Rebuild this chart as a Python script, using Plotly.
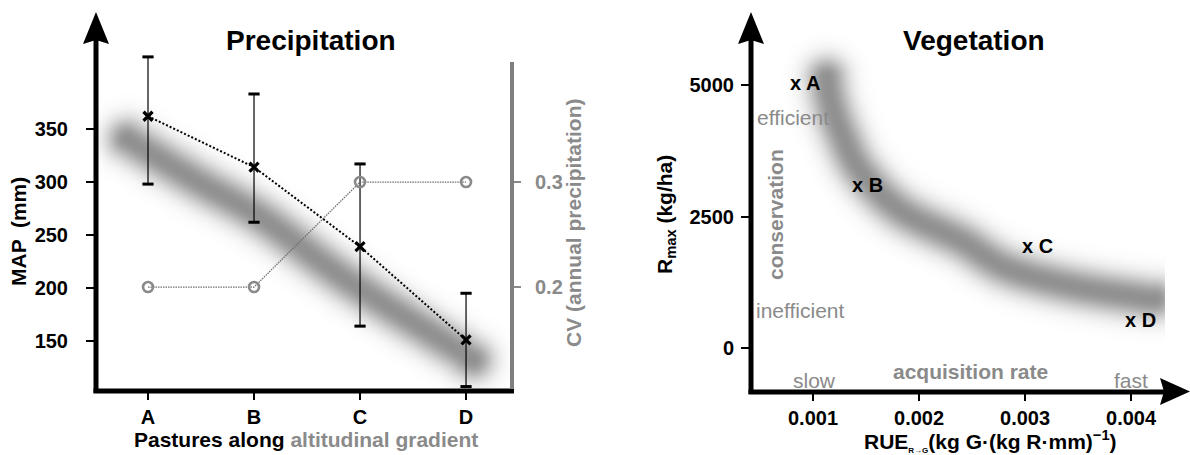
import numpy as np
import plotly.graph_objects as go

W, H = 1190, 455
FONT = "Liberation Sans, Arial, sans-serif"
GREY = "#8a8a8a"

# ---------------- data ----------------
pastures = ["A", "B", "C", "D"]
pasture_pos = [0, 1, 2, 3]
map_mm = [362, 314, 239, 151]
map_hi = [418, 383, 317, 195]
map_lo = [298, 262, 164, 107]
cv_precip = [0.2, 0.2, 0.3, 0.3]
map_ticks = [150, 200, 250, 300, 350]
cv_ticks = [0.2, 0.3]

# trend band (left) centre line
band1_x = [-0.2, 0.443, 1.075, 1.877, 2.972, 3.0]
band1_y = [341, 302, 266, 207.5, 138.7, 136]

# vegetation
veg_labels = ["x A", "x B", "x C", "x D"]
rue = [0.000783, 0.001368, 0.002972, 0.003943]
rmax = [5000, 3061, 1901, 494]
rue_ticks = [0.001, 0.002, 0.003, 0.004]
rmax_ticks = [0, 2500, 5000]

# trend band (right) centre line
band2_x = [0.001125, 0.00116, 0.001255, 0.001443, 0.001821, 0.002387, 0.00283, 0.003453, 0.004085, 0.00422]
band2_y = [5150, 4715, 4144, 3384, 2624, 2053, 1521, 1179, 970, 940]

# ---------------- geometry ----------------
L_X = (96, 513); L_Y = (20, 391)
L_XR = [-0.4906, 3.443]; L_YR = [102.8, 452.8]; L_Y2R = [0.1010, 0.4543]
R_X = (751, 1165); R_Y = (20, 392)
R_XR = [0.000415, 0.00432]; R_YR = [-836.5, 6236]


def px(x):
    return x / W


def py(y):
    return 1 - y / H


def catmull(xs, ys, n=8):
    P = np.column_stack([xs, ys]).astype(float)
    P = np.vstack([P[0], P, P[-1]])
    out = []
    for i in range(1, len(P) - 2):
        p0, p1, p2, p3 = P[i - 1], P[i], P[i + 1], P[i + 2]
        for t in np.linspace(0, 1, n, endpoint=False):
            t2, t3 = t * t, t * t * t
            out.append(0.5 * ((2 * p1) + (-p0 + p2) * t + (2 * p0 - 5 * p1 + 4 * p2 - p3) * t2
                              + (-p0 + 3 * p1 - 3 * p2 + p3) * t3))
    out.append(P[-2])
    out = np.array(out)
    return out[:, 0], out[:, 1]


def blur_field(bx, by, xr, yr, dx, dy, sigma=14.0, core=1.0, step=3):
    sx = (dx[1] - dx[0]) / (xr[1] - xr[0])
    sy = (dy[1] - dy[0]) / (yr[1] - yr[0])
    bpx, bpy = catmull((np.array(bx) - xr[0]) * sx, (np.array(by) - yr[0]) * sy)
    gx = np.arange(0, dx[1] - dx[0] + step, step, dtype=float)
    gy = np.arange(0, dy[1] - dy[0] + step, step, dtype=float)
    GX, GY = np.meshgrid(gx, gy)
    dmin = np.full(GX.shape, 1e9)
    for i in range(len(bpx) - 1):
        ax, ay, bx2, by2 = bpx[i], bpy[i], bpx[i + 1], bpy[i + 1]
        vx, vy = bx2 - ax, by2 - ay
        ll = vx * vx + vy * vy
        if ll == 0:
            continue
        t = np.clip(((GX - ax) * vx + (GY - ay) * vy) / ll, 0, 1)
        d = np.hypot(GX - (ax + t * vx), GY - (ay + t * vy))
        dmin = np.minimum(dmin, d)
    z = np.exp(-np.maximum(dmin - core, 0) ** 2 / (2 * sigma ** 2))
    return gx / sx + xr[0], gy / sy + yr[0], z


fig = go.Figure()

BAND_SCALE = [[0, "rgba(145,145,145,0)"], [1, "rgba(145,145,145,1)"]]

# left band
hx, hy, hz = blur_field(band1_x, band1_y, L_XR, L_YR, L_X, (0, L_Y[1] - L_Y[0]))
fig.add_trace(go.Heatmap(x=hx, y=hy, z=hz, colorscale=BAND_SCALE, zmin=0, zmax=1,
                         showscale=False, zsmooth="best", hoverinfo="skip",
                         xaxis="x", yaxis="y"))

# MAP series
err_plus = [h - m for h, m in zip(map_hi, map_mm)]
err_minus = [m - l for m, l in zip(map_mm, map_lo)]
fig.add_trace(go.Scatter(x=pasture_pos, y=map_mm, mode="lines+markers",
                         line=dict(color="black", width=2, dash="2px,2px"),
                         marker=dict(symbol="x-thin", size=9, line=dict(color="black", width=3.2)),
                         error_y=dict(type="data", array=err_plus, arrayminus=err_minus,
                                      thickness=1.2, width=0, color="black"),
                         cliponaxis=False, xaxis="x", yaxis="y", hoverinfo="skip"))
fig.add_trace(go.Scatter(x=pasture_pos + pasture_pos, y=map_hi + map_lo, mode="markers",
                         marker=dict(symbol="line-ew", size=8, line=dict(color="black", width=3)),
                         cliponaxis=False, xaxis="x", yaxis="y", hoverinfo="skip"))

# CV series
fig.add_trace(go.Scatter(x=pasture_pos, y=cv_precip, mode="lines+markers",
                         line=dict(color="#6f6f6f", width=1.3, dash="1.5px,1px"),
                         marker=dict(symbol="circle-open", size=10, color=GREY,
                                     line=dict(color=GREY, width=2.6)),
                         cliponaxis=False, xaxis="x", yaxis="y2", hoverinfo="skip"))

# right band
hx2, hy2, hz2 = blur_field(band2_x, band2_y, R_XR, R_YR, R_X, (0, R_Y[1] - R_Y[0]))
fig.add_trace(go.Heatmap(x=hx2, y=hy2, z=hz2, colorscale=BAND_SCALE, zmin=0, zmax=1,
                         showscale=False, zsmooth="best", hoverinfo="skip",
                         xaxis="x2", yaxis="y3"))

fig.add_trace(go.Scatter(x=rue, y=rmax, mode="text", text=veg_labels,
                         textposition="middle right",
                         textfont=dict(family=FONT, size=20, color="black", weight="bold"),
                         cliponaxis=False, xaxis="x2", yaxis="y3", hoverinfo="skip"))

tickfont = dict(family=FONT, size=20, color="black", weight="bold")
common = dict(showgrid=False, zeroline=False, showline=False, ticks="outside",
              tickwidth=2, tickcolor="black", tickfont=tickfont)

fig.update_layout(
    width=W, height=H, margin=dict(l=0, r=0, t=0, b=0),
    paper_bgcolor="white", plot_bgcolor="white", showlegend=False,
    xaxis=dict(domain=[px(L_X[0]), px(L_X[1])], range=L_XR, anchor="y",
               tickvals=pasture_pos, ticktext=pastures, ticklen=8, ticklabelstandoff=0, **common),
    yaxis=dict(domain=[py(L_Y[1]), py(L_Y[0])], range=L_YR, anchor="x",
               tickvals=map_ticks, ticklen=9, ticklabelstandoff=14, **common),
    yaxis2=dict(overlaying="y", side="right", anchor="x", range=L_Y2R,
                tickvals=cv_ticks, ticktext=["0.2", "0.3"],
                showgrid=False, zeroline=False, showline=False, ticks="outside",
                ticklen=7, tickwidth=2, tickcolor=GREY, ticklabelstandoff=10,
                tickfont=dict(family=FONT, size=20, color=GREY, weight="bold")),
    xaxis2=dict(domain=[px(R_X[0]), px(R_X[1])], range=R_XR, anchor="y3",
                tickvals=rue_ticks, ticktext=["0.001", "0.002", "0.003", "0.004"],
                ticklen=8, ticklabelstandoff=0, **common),
    yaxis3=dict(domain=[py(R_Y[1]), py(R_Y[0])], range=R_YR, anchor="x2",
                tickvals=rmax_ticks, ticklen=9, ticklabelstandoff=3, **common),
)

shapes = []


def line(x0, y0, x1, y1, w=5, c="black"):
    shapes.append(dict(type="line", xref="paper", yref="paper",
                       x0=px(x0), y0=py(y0), x1=px(x1), y1=py(y1),
                       line=dict(color=c, width=w), layer="above"))


def tri(pts, c="black"):
    path = "M " + " L ".join(f"{px(a):.5f},{py(b):.5f}" for a, b in pts) + " Z"
    shapes.append(dict(type="path", xref="paper", yref="paper", path=path,
                       fillcolor=c, line=dict(color=c, width=0), layer="above"))


# left panel axes
line(96, 393, 96, 38)
tri([(83, 44), (96, 12), (109, 44), (96, 40)])
line(93.5, 391, 514, 391)
line(512, 62, 512, 389, w=4, c="#7f7f7f")
# right panel axes
line(751, 394, 751, 38)
tri([(738, 44), (751, 12), (764, 44), (751, 40)])
line(748.5, 392, 1166, 392)
tri([(1160, 378), (1190, 391.5), (1160, 405), (1164, 391.5)])
fig.update_layout(shapes=shapes)

ann = []


def text(x, y, s, size=21, color="black", bold=True, angle=0, xanchor="center"):
    ann.append(dict(x=px(x), y=py(y), xref="paper", yref="paper", text=s, showarrow=False,
                    xanchor=xanchor, yanchor="middle", textangle=angle,
                    font=dict(family=FONT, size=size, color=color,
                              weight="bold" if bold else "normal")))


text(311, 40, "Precipitation", size=28)
text(974, 40, "Vegetation", size=28)
text(19, 232, "MAP  (mm)", angle=-90)
text(573, 223, "CV (annual precipitation)", color=GREY, angle=-90)
text(306, 439, f"Pastures along <span style='color:{GREY}'>altitudinal gradient</span>")
text(666, 215, "R<sub>max</sub> (kg/ha)", angle=-90)
text(990, 441, "RUE<sub><span style='font-size:8px'>R\u2192G</span></sub>(kg G\u00b7(kg R\u00b7mm)<sup>\u22121</sup>)")
text(755, 118, "efficient", color=GREY, bold=False, xanchor="left")
text(754, 310, "inefficient", color=GREY, bold=False, xanchor="left")
text(775, 215, "conservation", color=GREY, angle=-90)
text(814, 380, "slow", color=GREY, bold=False)
text(970, 371, "acquisition rate", color=GREY)
text(1131, 380, "fast", color=GREY, bold=False)
fig.update_layout(annotations=ann)

fig.write_html("out.html")
